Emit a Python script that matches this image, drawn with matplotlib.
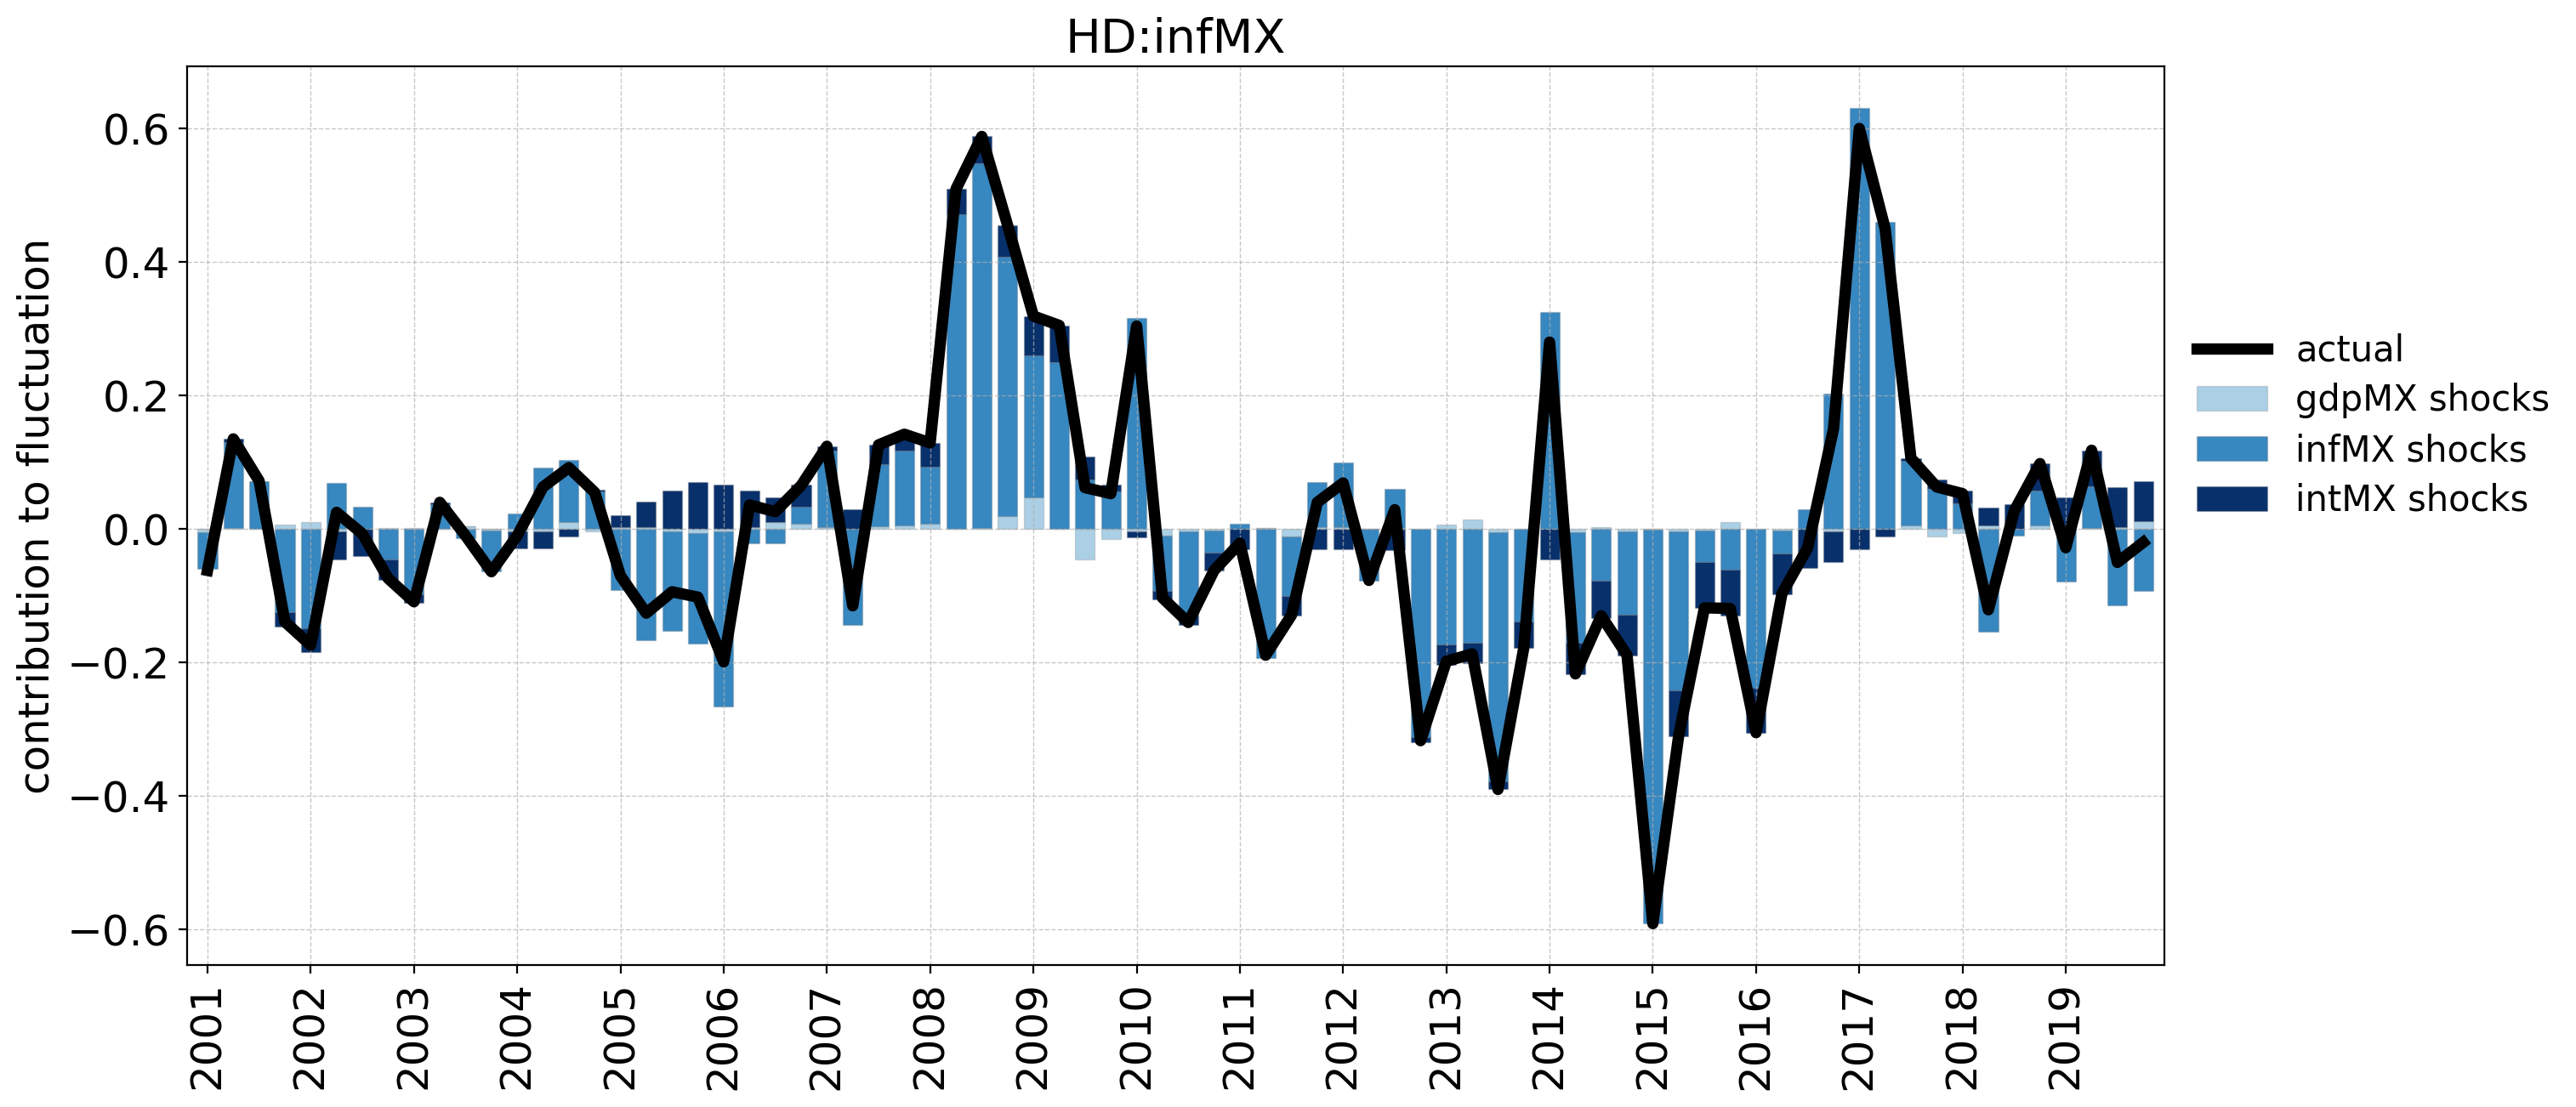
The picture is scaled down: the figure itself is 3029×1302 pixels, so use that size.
import numpy as np
import matplotlib
matplotlib.use("Agg")
import matplotlib.pyplot as plt

# quarters 2001Q1 .. 2019Q4
years = list(range(2001, 2020))
quarters = [y + q * 0.25 for y in years for q in range(4)]

gdpMX = [-0.005, 0.002, 0.000, 0.007, 0.010, -0.003, 0.000, 0.002, 0.002, 0.000,
         0.004, -0.002, -0.003, -0.003, 0.010, -0.004, 0.003, 0.003, -0.003, -0.006,
         -0.004, 0.003, 0.010, 0.008, 0.003, 0.000, 0.004, 0.005, 0.008, 0.000,
         0.002, 0.020, 0.048, 0.000, -0.046, -0.015, -0.004, -0.010, -0.004, -0.002,
         0.000, 0.002, -0.011, 0.003, 0.003, 0.000, 0.002, 0.000, 0.006, 0.014,
         -0.005, 0.000, 0.000, -0.005, 0.003, -0.003, -0.001, -0.003, -0.002, 0.011,
         0.000, -0.002, 0.000, -0.004, 0.000, 0.000, 0.005, -0.011, -0.006, 0.005,
         0.000, 0.005, 0.000, 0.002, 0.003, 0.012]

infMX = [-0.055, 0.128, 0.072, -0.124, -0.149, 0.069, 0.033, -0.046, -0.098, 0.037,
         -0.014, -0.062, 0.023, 0.092, 0.093, 0.056, -0.091, -0.167, -0.149, -0.166,
         -0.262, -0.021, -0.022, 0.026, 0.115, -0.144, 0.093, 0.112, 0.085, 0.472,
         0.546, 0.388, 0.212, 0.250, 0.074, 0.056, 0.316, -0.083, -0.125, -0.034,
         0.008, -0.193, -0.089, 0.067, 0.096, -0.077, 0.058, -0.312, -0.173, -0.171,
         -0.373, -0.139, 0.325, -0.165, -0.078, -0.125, -0.590, -0.239, -0.047, -0.061,
         -0.238, -0.035, 0.030, 0.203, 0.630, 0.460, 0.097, 0.060, 0.038, -0.154,
         -0.010, 0.053, -0.079, 0.062, -0.114, -0.093]

intMX = [0.000, 0.005, 0.000, -0.022, -0.035, -0.043, -0.040, -0.030, -0.013, 0.003,
         0.000, 0.000, -0.026, -0.026, -0.011, 0.003, 0.018, 0.038, 0.058, 0.070,
         0.067, 0.054, 0.038, 0.033, 0.006, 0.029, 0.029, 0.022, 0.036, 0.037,
         0.040, 0.047, 0.059, 0.055, 0.034, 0.010, -0.008, -0.012, -0.015, -0.026,
         -0.030, 0.000, -0.029, -0.030, -0.030, 0.000, -0.031, -0.007, -0.031, -0.030,
         -0.012, -0.039, -0.045, -0.047, -0.055, -0.061, 0.000, -0.068, -0.069, -0.068,
         -0.067, -0.061, -0.058, -0.046, -0.030, -0.011, 0.004, 0.014, 0.019, 0.027,
         0.037, 0.040, 0.048, 0.054, 0.060, 0.060]

actual = [-0.062, 0.135, 0.072, -0.139, -0.174, 0.025, -0.007, -0.074, -0.109, 0.040,
          -0.010, -0.064, -0.010, 0.063, 0.092, 0.055, -0.070, -0.126, -0.094, -0.102,
          -0.199, 0.036, 0.026, 0.065, 0.124, -0.115, 0.126, 0.142, 0.129, 0.509,
          0.588, 0.455, 0.319, 0.305, 0.062, 0.053, 0.304, -0.103, -0.140, -0.062,
          -0.021, -0.189, -0.129, 0.040, 0.069, -0.077, 0.029, -0.317, -0.198, -0.187,
          -0.390, -0.178, 0.280, -0.217, -0.130, -0.189, -0.591, -0.310, -0.118, -0.119,
          -0.305, -0.097, -0.028, 0.150, 0.600, 0.450, 0.106, 0.063, 0.053, -0.121,
          0.027, 0.098, -0.028, 0.118, -0.050, -0.020]

series_names = ["gdpMX shocks", "infMX shocks", "intMX shocks"]
series_colors = ["#abd0e6", "#3787c0", "#08306b"]

fig = plt.figure(figsize=(3029 / 200, 1302 / 200), dpi=200)
ax = fig.add_axes([219.7 / 3029, 1 - 1135 / 1302, (2545 - 219.7) / 3029, (1135 - 78) / 1302])

x = np.array(quarters)
pos_bottom = np.zeros(len(x))
neg_bottom = np.zeros(len(x))
width = 0.19
for vals, name, col in zip([gdpMX, infMX, intMX], series_names, series_colors):
    v = np.array(vals)
    bottoms = np.where(v >= 0, pos_bottom, neg_bottom)
    ax.bar(x, v, width=width, bottom=bottoms, color=col, edgecolor=(0.45, 0.45, 0.45, 0.25),
           linewidth=0.5, label=name)
    pos_bottom = pos_bottom + np.where(v >= 0, v, 0)
    neg_bottom = neg_bottom + np.where(v < 0, v, 0)

ax.plot(x, actual, color="black", linewidth=4.8, label="actual", zorder=3)

ax.set_xlim(2000.80, 2019.955)
ax.set_ylim(-0.653, 0.693)
ax.set_xticks(years)
ax.set_xticklabels([str(y) for y in years], rotation=90, fontsize=18)
ax.set_yticks([-0.6, -0.4, -0.2, 0.0, 0.2, 0.4, 0.6])
ax.set_yticklabels(["\u22120.6", "\u22120.4", "\u22120.2", "0.0", "0.2", "0.4", "0.6"], fontsize=18)
ax.grid(True, linestyle="--", color="#b0b0b0", alpha=0.7, linewidth=0.5)
ax.set_title("HD:infMX", fontsize=20)
ax.set_ylabel("contribution to fluctuation", fontsize=18)

handles, labels = ax.get_legend_handles_labels()
order = [labels.index("actual")] + [labels.index(n) for n in series_names]
ax.legend([handles[i] for i in order], [labels[i] for i in order],
          loc="center left", bbox_to_anchor=(1.0, 0.60), frameon=False, fontsize=15,
          labelspacing=0.4)

fig.savefig("out.png", dpi=200)
